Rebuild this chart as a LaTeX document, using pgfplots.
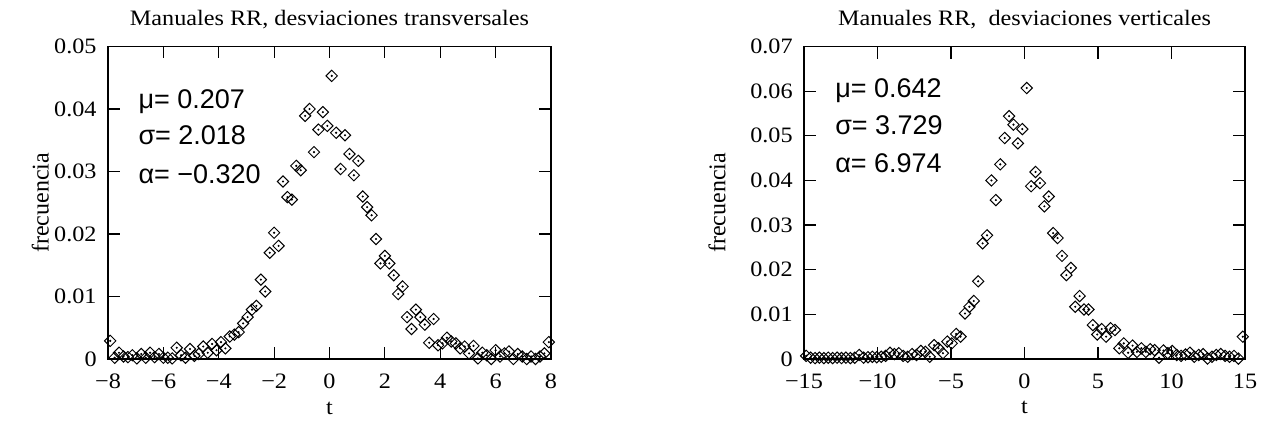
\documentclass[border=0pt]{standalone}
\usepackage{pgfplots}
\usepackage{pgfplotstable}
\pgfplotsset{compat=1.18}
\usepackage{fontspec}
\setmainfont{Liberation Serif}
\setsansfont{Liberation Sans}
\newfontfamily\widefont{Liberation Serif}[FakeStretch=1.1]

\pgfplotstableread{
t v
-7.92 0.0029
-7.76 0.0002
-7.60 0.0010
-7.44 0.0004
-7.28 0.0003
-7.12 0.0006
-6.96 0.0001
-6.80 0.0008
-6.64 0.0002
-6.48 0.0010
-6.32 0.0003
-6.16 0.0008
-6.00 0.0002
-5.84 0.0002
-5.68 0.0001
-5.52 0.0018
-5.36 0.0006
-5.20 0.0002
-5.04 0.0016
-4.88 0.0005
-4.72 0.0008
-4.56 0.0020
-4.40 0.0010
-4.24 0.0024
-4.08 0.0014
-3.92 0.0027
-3.76 0.0017
-3.60 0.0036
-3.44 0.0039
-3.28 0.0043
-3.12 0.0057
-2.96 0.0067
-2.80 0.0079
-2.64 0.0085
-2.48 0.0127
-2.32 0.0108
-2.16 0.0170
-2.00 0.0202
-1.84 0.0181
-1.68 0.0284
-1.52 0.0259
-1.36 0.0255
-1.20 0.0309
-1.04 0.0302
-0.88 0.0389
-0.72 0.0400
-0.56 0.0331
-0.40 0.0367
-0.24 0.0395
-0.08 0.0373
0.08 0.0453
0.24 0.0362
0.40 0.0304
0.56 0.0358
0.72 0.0328
0.88 0.0294
1.04 0.0317
1.20 0.0260
1.36 0.0243
1.52 0.0230
1.68 0.0192
1.84 0.0153
2.00 0.0165
2.16 0.0153
2.32 0.0134
2.48 0.0104
2.64 0.0116
2.80 0.0067
2.96 0.0048
3.12 0.0079
3.28 0.0067
3.44 0.0055
3.60 0.0026
3.76 0.0064
3.92 0.0022
4.08 0.0025
4.24 0.0034
4.40 0.0028
4.56 0.0025
4.72 0.0017
4.88 0.0020
5.04 0.0009
5.20 0.0021
5.36 0.0001
5.52 0.0010
5.68 0.0006
5.84 0.0000
6.00 0.0014
6.16 0.0004
6.32 0.0009
6.48 0.0012
6.64 0.0000
6.80 0.0008
6.96 0.0004
7.12 0.0000
7.28 0.0004
7.44 0.0000
7.60 0.0004
7.76 0.0009
7.92 0.0027
}\transversal

\pgfplotstableread{
t v
-14.85 0.0007
-14.55 0.0003
-14.25 0.0002
-13.95 0.0003
-13.65 0.0002
-13.35 0.0003
-13.05 0.0002
-12.75 0.0003
-12.45 0.0002
-12.15 0.0003
-11.85 0.0002
-11.55 0.0003
-11.25 0.0009
-10.95 0.0003
-10.65 0.0004
-10.35 0.0005
-10.05 0.0004
-9.75 0.0005
-9.45 0.0007
-9.15 0.0014
-8.85 0.0011
-8.55 0.0013
-8.25 0.0007
-7.95 0.0005
-7.65 0.0011
-7.35 0.0009
-7.05 0.0018
-6.75 0.0016
-6.45 0.0005
-6.15 0.0031
-5.85 0.0024
-5.55 0.0013
-5.25 0.0039
-4.95 0.0035
-4.65 0.0056
-4.35 0.0050
-4.05 0.0102
-3.75 0.0117
-3.45 0.0130
-3.15 0.0174
-2.85 0.0259
-2.55 0.0277
-2.25 0.0400
-1.95 0.0356
-1.65 0.0436
-1.35 0.0495
-1.05 0.0544
-0.75 0.0525
-0.45 0.0483
-0.15 0.0515
0.15 0.0607
0.45 0.0387
0.75 0.0419
1.05 0.0394
1.35 0.0342
1.65 0.0364
1.95 0.0282
2.25 0.0271
2.55 0.0231
2.85 0.0188
3.15 0.0204
3.45 0.0117
3.75 0.0141
4.05 0.0111
4.35 0.0111
4.65 0.0076
4.95 0.0055
5.25 0.0067
5.55 0.0050
5.85 0.0069
6.15 0.0065
6.45 0.0024
6.75 0.0035
7.05 0.0014
7.35 0.0030
7.65 0.0016
7.95 0.0024
8.25 0.0016
8.55 0.0022
8.85 0.0020
9.15 0.0003
9.45 0.0019
9.75 0.0013
10.05 0.0018
10.35 0.0009
10.65 0.0007
10.95 0.0010
11.25 0.0014
11.55 0.0005
11.85 0.0009
12.15 0.0011
12.45 0.0001
12.75 0.0005
13.05 0.0009
13.35 0.0011
13.65 0.0007
13.95 0.0005
14.25 0.0007
14.55 0.0001
14.85 0.0050
}\vertical

\pgfplotsset{
  gp/.style={
    scale only axis,
    width=221.5pt, height=156.25pt,
    anchor=south west,
    clip=false,
    axis line style={line width=0.6pt},
    every tick/.style={line width=0.6pt, black},
    tick align=inside,
    major tick length=6pt,
    scaled y ticks=false,
    scaled x ticks=false,
    tick label style={font=\widefont\fontsize{11}{13}\selectfont, inner sep=0pt},
    xticklabel style={anchor=base, yshift=-14.5pt},
    yticklabel style={anchor=east, xshift=-5.5pt},
    xlabel style={font=\widefont\fontsize{11}{13}\selectfont, inner sep=0pt, at={(axis description cs:0.5,-0.176)}, anchor=base},
    ylabel style={font=\fontsize{12}{14}\selectfont, inner sep=0pt},
    xlabel={t},
    ylabel={frecuencia},
  },
  dia/.style={only marks, mark=square, mark size=2pt, mark options={rotate=45, line width=0.5pt, draw=black, fill=none}},
  dot/.style={only marks, mark=*, mark size=0.3pt, mark options={draw=black, fill=black}},
}
\tikzset{
  ttl/.style={anchor=base, font=\widefont\fontsize{11}{13}\selectfont, inner sep=0pt},
  ann/.style={anchor=base west, font=\fontsize{13.5}{16}\sffamily, inner sep=0pt},
}

\begin{document}
\begin{tikzpicture}
\useasboundingbox (0,0) rectangle (633.5pt,211.5pt);

\begin{axis}[gp,
  at={(54pt,32pt)},
  xmin=-8, xmax=8, ymin=0, ymax=0.05,
  xtick={-8,-6,-4,-2,0,2,4,6,8},
  xticklabels={−8,−6,−4,−2,0,2,4,6,8},
  ytick={0,0.01,0.02,0.03,0.04,0.05},
  yticklabels={0,0.01,0.02,0.03,0.04,0.05},
  ylabel style={at={(axis description cs:-0.153,0.5)}, anchor=center},
]
\addplot[dia] table[x=t,y=v] {\transversal};
\addplot[dot] table[x=t,y=v] {\transversal};
\node[ttl] at (axis description cs:0.5,1.066) {Manuales RR, desviaciones transversales};
\node[ann] at (axis description cs:0.068,0.803) {μ= 0.207};
\node[ann] at (axis description cs:0.068,0.685) {σ= 2.018};
\node[ann] at (axis description cs:0.068,0.563) {α= −0.320};
\end{axis}

\begin{axis}[gp,
  at={(402pt,32pt)},
  width=220.5pt,
  xmin=-15, xmax=15, ymin=0, ymax=0.07,
  xtick={-15,-10,-5,0,5,10,15},
  xticklabels={−15,−10,−5,0,5,10,15},
  ytick={0,0.01,0.02,0.03,0.04,0.05,0.06,0.07},
  yticklabels={0,0.01,0.02,0.03,0.04,0.05,0.06,0.07},
  ylabel style={at={(axis description cs:-0.197,0.5)}, anchor=center},
]
\addplot[dia] table[x=t,y=v] {\vertical};
\addplot[dot] table[x=t,y=v] {\vertical};
\node[ttl] at (axis description cs:0.5,1.066) {Manuales RR,\ \ desviaciones verticales};
\node[ann] at (axis description cs:0.070,0.838) {μ= 0.642};
\node[ann] at (axis description cs:0.070,0.717) {σ= 3.729};
\node[ann] at (axis description cs:0.070,0.598) {α= 6.974};
\end{axis}
\end{tikzpicture}
\end{document}
